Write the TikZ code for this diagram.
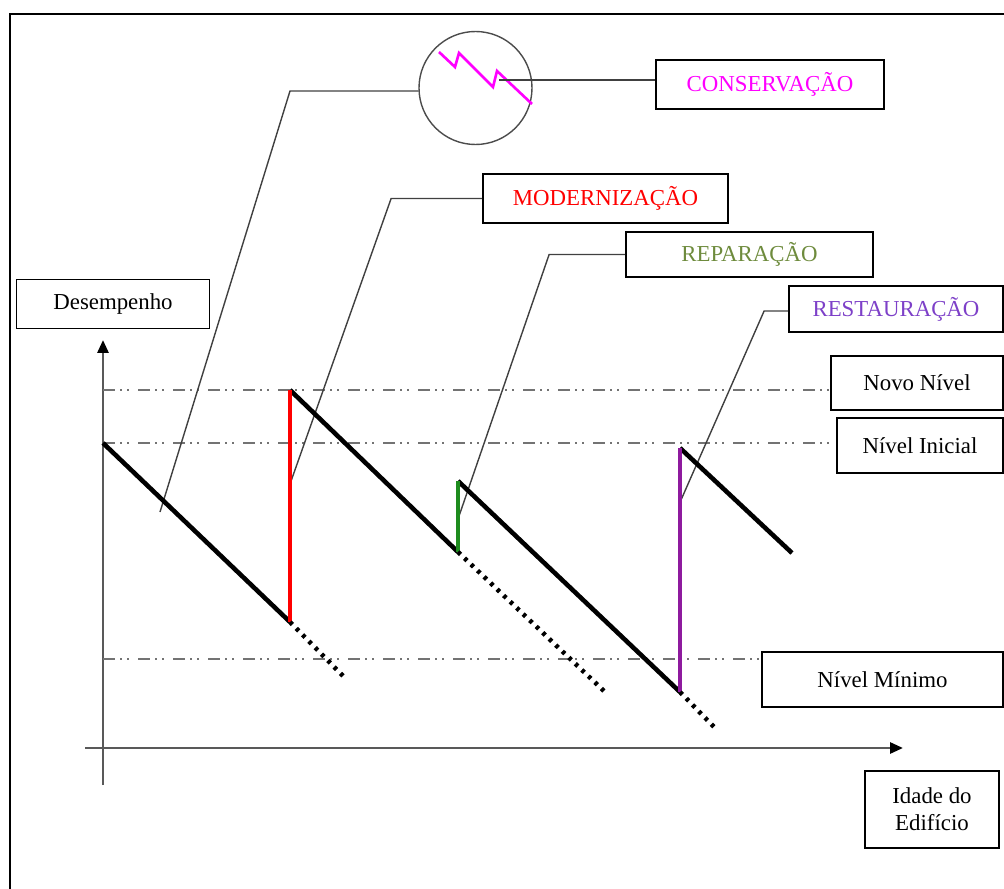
\documentclass[tikz,border=0pt]{standalone}
\usepackage{fontspec}
\setmainfont{Liberation Serif}
\usetikzlibrary{arrows.meta}
\definecolor{conscol}{HTML}{FF00FF}
\definecolor{modcol}{HTML}{FF0000}
\definecolor{repcol}{HTML}{1E8C1E}
\definecolor{reptext}{HTML}{6E8B3D}
\definecolor{restcol}{HTML}{8E1A9E}
\definecolor{resttext}{HTML}{7D40C8}

\begin{document}
\begin{tikzpicture}[x=0.2mm,y=-0.2mm,
    every node/.style={font=\fontsize{13}{15.5}\selectfont},
    caixa/.style={draw,line width=1pt,inner sep=0pt,align=center},
    leader/.style={black!75,line width=0.8pt},
    nivel/.style={gray!90!black,line width=1.5pt,dash pattern=on 2.4mm off 1mm on 0.4mm off 1mm on 0.4mm off 1.8mm},
    perf/.style={line width=2.6pt},
    cont/.style={line width=2.6pt,dash pattern=on 0.7mm off 1.1mm},
    eixo/.style={gray!70!black,line width=1.6pt,-{Triangle[length=2.6mm,width=2.2mm,color=black]}}]
      \useasboundingbox (0,0) rectangle (1004,889);
      % Frame (only left and top edges visible)
      \draw[line width=1.5pt] (10,889) -- (10,14) -- (1004,14);
      % Boxes
      \node[caixa,minimum width=38.6mm,minimum height=9.8mm] (desemp) at (113,304) {Desempenho};
      \node[caixa,minimum width=45.6mm,minimum height=9.8mm,text=conscol] (conserv) at (770,84.5) {CONSERVAÇÃO};
      \node[caixa,minimum width=49mm,minimum height=9.8mm,text=modcol] (modern) at (605.5,198.5) {MODERNIZAÇÃO};
      \node[caixa,minimum width=49.4mm,minimum height=9mm,text=reptext] (repar) at (749.5,254.5) {REPARAÇÃO};
      \node[caixa,minimum width=42.8mm,minimum height=9.2mm,text=resttext] (restaur) at (896,309) {RESTAURAÇÃO};
      \node[caixa,minimum width=34.4mm,minimum height=10.8mm] (novo) at (917,383) {Novo Nível};
      \node[caixa,minimum width=33.2mm,minimum height=11mm] (inicial) at (920,445.5) {Nível Inicial};
      \node[caixa,minimum width=48.2mm,minimum height=11mm] (minimo) at (882.5,679.5) {Nível Mínimo};
      \node[caixa,minimum width=26.8mm,minimum height=15.4mm] (idade) at (932,809.5) {Idade do\\Edifício};
      % Magnifier circle with zigzag
      \node[circle,draw=gray!60!black,line width=0.8pt,minimum size=22.6mm,inner sep=0pt] (lupa) at (475.5,88) {};
      \draw[conscol,line width=1.5pt] (439,52) -- (455,67) -- (459,53) -- (493,87) -- (497,71) -- (532,104);
      \coordinate (zz) at (499,80);
      % Performance curve points
      \coordinate (p0) at (103,443);
      \coordinate (p1) at (290,622);
      \coordinate (p2) at (290,390);
      \coordinate (p3) at (458,552);
      \coordinate (p4) at (458,481);
      \coordinate (p5) at (680,692);
      \coordinate (p6) at (680,448);
      \coordinate (p7) at (792,553);
      \coordinate (d1) at (345,678);
      \coordinate (d3) at (605,692);
      \coordinate (d5) at (715,728);
      % Axes
      \coordinate (o) at (103,748);
      \coordinate (ybot) at (103,785);
      \coordinate (ytop) at (103,340);
      \coordinate (xleft) at (85,748);
      \coordinate (xright) at (903,748);
      \draw[eixo] (ybot) -- (ytop);
      \draw[eixo] (xleft) -- (xright);
      % Levels
      \coordinate (m0) at (103,659);
      \draw[nivel] (p2 -| o) -- (p2 -| novo.west);
      \draw[nivel] (p0) -- (p0 -| inicial.west);
      \draw[nivel] (m0) -- (m0 -| minimo.west);
      % Leader lines
      \coordinate (c1) at (160,512);
      \coordinate (k1) at (290,91);
      \coordinate (c2) at (290,484);
      \coordinate (c3) at (458,519);
      \coordinate (c4) at (681,500);
      \draw[leader] (c1) -- (k1) -- (k1 -| lupa.west);
      \draw[leader] (zz) -- (zz -| conserv.west);
      \draw[leader] (c2) -- ([xshift=-18.2mm]modern.west) -- (modern.west);
      \draw[leader] (c3) -- ([xshift=-15.2mm]repar.west) -- (repar.west);
      \draw[leader] (c4) -- ([xshift=-4.8mm,yshift=-0.4mm]restaur.west) -- ([yshift=-0.4mm]restaur.west);
      % Performance over time
      \draw[perf] (p0) -- (p1);
      \draw[perf] (p2) -- (p3);
      \draw[perf] (p4) -- (p5);
      \draw[perf] (p6) -- (p7);
      \draw[perf,modcol] (p1) -- (p2);
      \draw[perf,repcol] (p3) -- (p4);
      \draw[perf,restcol] (p5) -- (p6);
      % Decay without intervention
      \draw[cont] (p1) -- (d1);
      \draw[cont] (p3) -- (d3);
      \draw[cont] (p5) -- (d5);
    \end{tikzpicture}
\end{document}
